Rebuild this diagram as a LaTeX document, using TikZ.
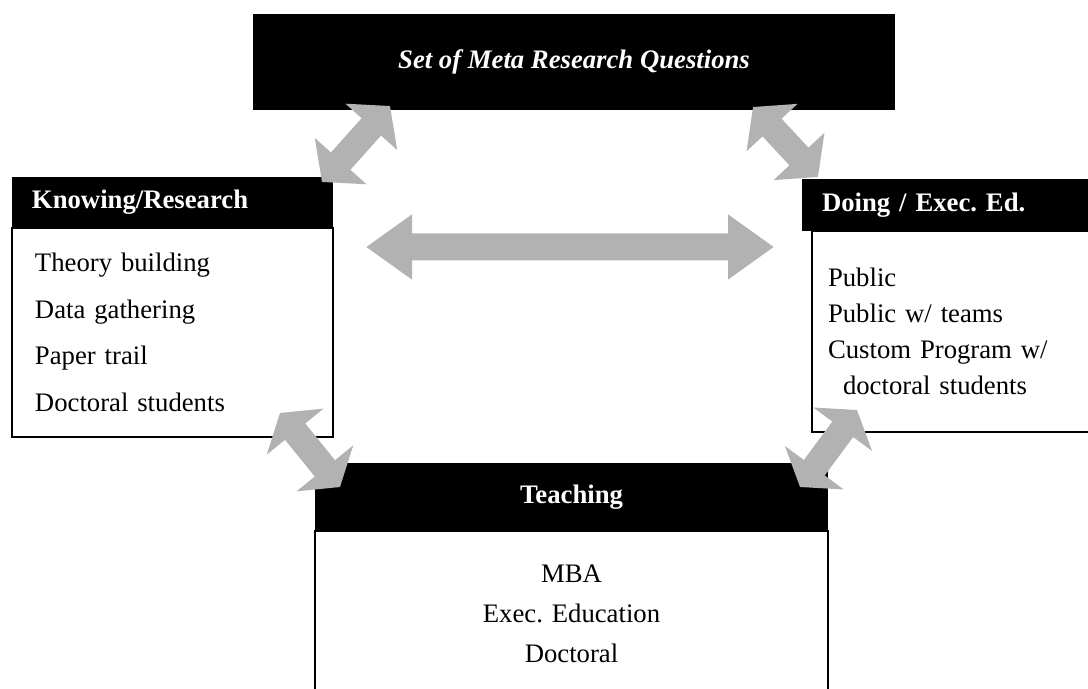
\documentclass[tikz,border=0pt]{standalone}
\usepackage{fontspec}
\setmainfont{Liberation Serif}
\frenchspacing
\usetikzlibrary{arrows.meta,positioning}
\definecolor{arrowgrey}{RGB}{178,178,178}
\newcommand{\boxfont}{\fontsize{19}{23}\selectfont}

\begin{document}
\begin{tikzpicture}[
    head/.style={fill=black,text=white,font=\boxfont\bfseries,inner sep=0pt,outer sep=0pt},
    body/.style={draw=black,line width=2pt,fill=white,anchor=north,inner ysep=0pt,outer sep=0pt},
    twoway/.style 2 args={draw=arrowgrey,line width=0.65cm,
      {Triangle[length=#1,width=#2]}-{Triangle[length=#1,width=#2]}}]
  \useasboundingbox (0,0) rectangle (27.2,17.2);
  \clip (0,0) rectangle (27.2,17.2);

  % meta questions
  \node[head,font=\boxfont\bfseries\itshape,minimum width=16.05cm,minimum height=2.4cm] (top) at (14.35,15.65) {Set of Meta Research Questions};

  % knowing / research
  \node[head,minimum width=8.025cm,minimum height=1.275cm,text width=7.025cm,inner xsep=0.5cm,align=left] (know) at (4.3125,12.1375) {Knowing/Research};
  \node[body,minimum height=5.225cm,text width=6.875cm,inner xsep=0.575cm,align=left,font=\fontsize{19}{33.2}\selectfont] (knowbody) at (know.south) {Theory building\\Data gathering\\Paper trail\\Doctoral students};

  % doing / exec ed
  \node[head,minimum width=7.45cm,minimum height=1.3cm,text width=6.95cm,inner xsep=0.5cm,align=left] (doing) at (24.025,12.075) {Doing / Exec. Ed.};
  \node[body,minimum height=5.025cm,text width=6.65cm,inner xsep=0.4cm,align=left,font=\fontsize{19}{25.6}\selectfont] (doingbody) at (doing.south) {Public\\Public w/ teams\\Custom Program w/\\\hspace*{0.375cm}doctoral students};

  % teaching
  \node[head,minimum width=12.825cm,minimum height=1.7cm] (teach) at (14.2875,4.775) {Teaching};
  \node[body,minimum width=12.825cm,minimum height=4.15cm,text width=12cm,align=center,font=\fontsize{19}{28.5}\selectfont] (teachbody) at (teach.south) {MBA\\Exec. Education\\Doctoral};

  % arrows between the boxes
  \draw[twoway={0.7cm}{1.7cm}] ([shift={(-0.275,-0.125)}]know.north east) -- ([shift={(3.425,0.1)}]top.south west);
  \draw[twoway={0.7cm}{1.7cm}] ([shift={(-3.55,0.075)}]top.south east) -- ([shift={(0.4,0.05)}]doing.north west);
  \draw[twoway={0.6cm}{1.8cm}] ([shift={(-1.325,0.6)}]knowbody.south east) -- ([shift={(0.625,-0.6)}]teach.north west);
  \draw[twoway={0.6cm}{1.8cm}] ([shift={(-0.7,-0.6)}]teach.north east) -- ([shift={(1.125,0.55)}]doingbody.south west);
  \draw[twoway={1.15cm}{1.55cm},line width=0.675cm] ([shift={(0.825,-0.475)}]know.south east) -- ([shift={(-0.7,-0.4)}]doing.south west);
\end{tikzpicture}
\end{document}
